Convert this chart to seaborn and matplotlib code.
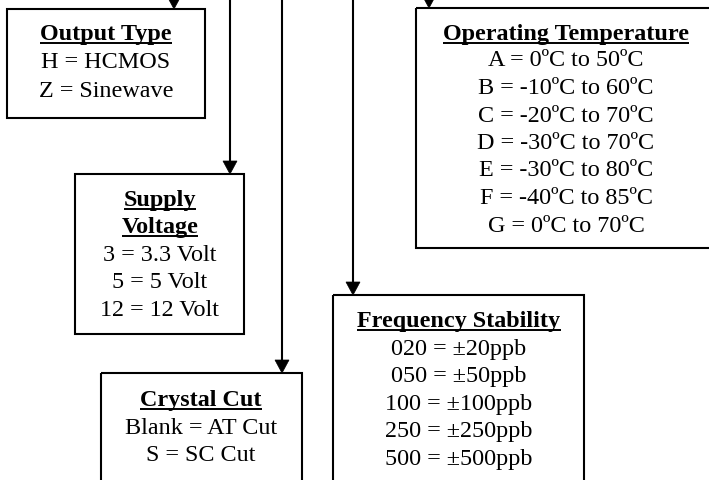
import matplotlib
matplotlib.use("Agg")
import matplotlib.pyplot as plt
import seaborn as sns
from matplotlib.patches import Rectangle, Polygon

sns.set_theme(style="white")
plt.rcParams['font.family'] = ['Liberation Serif', 'DejaVu Serif']

# ---- content ----
output_title = "Output Type"
output_lines = ["H = HCMOS", "Z = Sinewave"]

supply_title = ["Supply", "Voltage"]
supply_lines = ["3 = 3.3 Volt", "5 = 5 Volt", "12 = 12 Volt"]

cut_title = "Crystal Cut"
cut_lines = ["Blank = AT Cut", "S = SC Cut"]

stab_title = "Frequency Stability"
stab_lines = ["020 = ±20ppb", "050 = ±50ppb", "100 = ±100ppb",
              "250 = ±250ppb", "500 = ±500ppb"]

temp_title = "Operating Temperature"
temp_lines = ["A = 0ºC to 50ºC", "B = -10ºC to 60ºC", "C = -20ºC to 70ºC",
              "D = -30ºC to 70ºC", "E = -30ºC to 80ºC", "F = -40ºC to 85ºC",
              "G = 0ºC to 70ºC"]

# ---- layout (pixels) ----
W, H = 709, 480
fig = plt.figure(figsize=(W / 100, H / 100), dpi=100)
ax = fig.add_axes([0, 0, 1, 1])
ax.set_xlim(0, W)
ax.set_ylim(H, 0)
ax.axis("off")

FS = 17.4
LW = 1.5

def box(x0, y0, x1, y1):
    ax.add_patch(Rectangle((x0, y0), x1 - x0, y1 - y0, fill=False,
                           edgecolor="black", lw=LW, clip_on=True))

def arrow(x, y_start, y_tip):
    ah = 13
    aw = 7
    ax.plot([x, x], [y_start, y_tip - ah + 1], color="black", lw=LW,
            solid_capstyle="butt")
    ax.add_patch(Polygon([(x - aw, y_tip - ah), (x + aw, y_tip - ah), (x, y_tip)],
                         closed=True, facecolor="black", edgecolor="black", lw=0.5))

underline_targets = []

def title(x, y, s):
    t = ax.text(x, y, s, ha="center", va="baseline", fontsize=FS,
                fontweight="bold", color="black")
    underline_targets.append((t, y))

def lines(x, ys, items):
    for y, s in zip(ys, items):
        ax.text(x, y, s, ha="center", va="baseline", fontsize=FS, color="black")

# Output Type
arrow(174, -2, 9)
box(7, 9, 205, 118)
title(106, 40, output_title)
lines(106, [68, 97], output_lines)

# Supply Voltage
arrow(230, -2, 174)
box(75, 174, 244, 334)
title(160, 206, supply_title[0])
title(160, 233, supply_title[1])
lines(160, [261, 288, 316], supply_lines)

# Crystal Cut
arrow(282, -2, 373)
box(101, 373, 302, 490)
title(201, 406, cut_title)
lines(201, [434, 461], cut_lines)

# Frequency Stability
arrow(353, -2, 295)
box(333, 295, 584, 490)
title(459, 327, stab_title)
lines(459, [355, 382, 410, 437, 465], stab_lines)

# Operating Temperature
arrow(429, -2, 8)
box(416, 8, 717, 248)
title(566, 40, temp_title)
lines(566, [66.5, 94, 121.5, 149, 176.5, 204, 231.5], temp_lines)

# underlines for titles
fig.canvas.draw()
r = fig.canvas.get_renderer()
inv = ax.transData.inverted()
for t, y in underline_targets:
    bb = t.get_window_extent(renderer=r)
    (xa, _), (xb, _) = inv.transform([(bb.x0, bb.y0), (bb.x1, bb.y0)])
    ax.plot([xa, xb], [y + 2.5, y + 2.5], color="black", lw=1.4,
            solid_capstyle="butt")

fig.savefig("out.png", dpi=100)
